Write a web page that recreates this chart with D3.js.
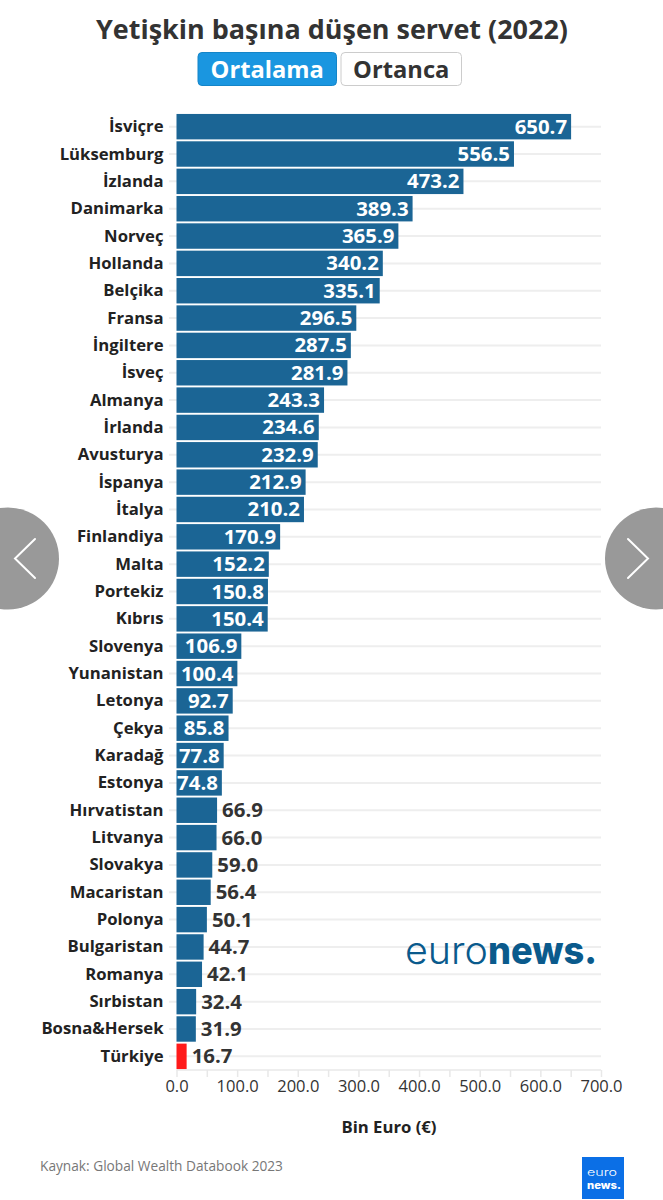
<!DOCTYPE html>
<html><head><meta charset="utf-8">
<script src="https://cdn.jsdelivr.net/npm/d3@7"></script>
<style>html,body{margin:0;padding:0;background:#fff}svg{display:block}text{font-family:"Open Sans",sans-serif}</style>
</head><body><div id="c"></div>
<script>
const countries=["İsviçre","Lüksemburg","İzlanda","Danimarka","Norveç","Hollanda","Belçika","Fransa","İngiltere","İsveç","Almanya","İrlanda","Avusturya","İspanya","İtalya","Finlandiya","Malta","Portekiz","Kıbrıs","Slovenya","Yunanistan","Letonya","Çekya","Karadağ","Estonya","Hırvatistan","Litvanya","Slovakya","Macaristan","Polonya","Bulgaristan","Romanya","Sırbistan","Bosna&Hersek","Türkiye"];
const values=[650.7,556.5,473.2,389.3,365.9,340.2,335.1,296.5,287.5,281.9,243.3,234.6,232.9,212.9,210.2,170.9,152.2,150.8,150.4,106.9,100.4,92.7,85.8,77.8,74.8,66.9,66.0,59.0,56.4,50.1,44.7,42.1,32.4,31.9,16.7];
const xTicks=[0,100,200,300,400,500,600,700];
const xMinorTicks=[0,50,100,150,200,250,300,350,400,450,500,550,600,650,700];
const title="Yetişkin başına düşen servet (2022)";
const buttons=["Ortalama","Ortanca"];
const axisTitle="Bin Euro (€)";
const source="Kaynak: Global Wealth Databook 2023";
const highlight="Türkiye";

const W=663,H=1200;
const svg=d3.select("#c").append("svg").attr("width",W).attr("height",H);
const x=d3.scaleLinear().domain([0,700]).range([176.5,601]);
const y=d3.scaleBand().domain(countries).range([113,1070]).paddingInner(0.07).paddingOuter(0.035);

svg.append("text").attr("x",332).attr("y",38.5).attr("text-anchor","middle")
  .attr("font-size",27.5).attr("font-weight",700).attr("fill","#333")
  .attr("textLength",472).attr("lengthAdjust","spacingAndGlyphs").text(title);

// buttons
const btn=[{x:198,w:138.5,fill:"#1a96e0",stroke:"#1485c8",col:"#fff"},{x:341,w:120.5,fill:"#fff",stroke:"#ccc",col:"#333"}];
btn.forEach((b,i)=>{
  svg.append("rect").attr("x",b.x).attr("y",52.5).attr("width",b.w).attr("height",33).attr("rx",4)
    .attr("fill",b.fill).attr("stroke",b.stroke).attr("stroke-width",1);
  svg.append("text").attr("x",b.x+b.w/2).attr("y",77.5).attr("text-anchor","middle")
    .attr("font-size",23.7).attr("font-weight",700).attr("fill",b.col).text(buttons[i]);
});

// gridlines
svg.append("g").selectAll("line").data(countries).join("line")
  .attr("x1",169).attr("x2",601)
  .attr("y1",d=>y(d)+y.bandwidth()/2).attr("y2",d=>y(d)+y.bandwidth()/2)
  .attr("stroke","#eeeeee").attr("stroke-width",2);

// axis
const axis=d3.axisBottom(x).tickValues(xMinorTicks).tickSize(7).tickFormat(d=>xTicks.includes(d)?d.toFixed(1):"");
const ga=svg.append("g").attr("transform","translate(0,1070)").call(axis);
ga.selectAll("path,line").attr("stroke","#e8e8e8").attr("stroke-width",1.5);
ga.select(".domain").attr("d","M176.5,0H601");
ga.selectAll("text").attr("font-size",16.5).attr("fill","#333").attr("y",10).style("font-family",'"Open Sans",sans-serif');

svg.append("text").attr("x",389).attr("y",1133).attr("text-anchor","middle")
  .attr("font-size",16.7).attr("font-weight",700).attr("fill","#222").text(axisTitle);

// bars
const rows=countries.map((c,i)=>({c,v:values[i]}));
svg.append("g").selectAll("rect").data(rows).join("rect")
  .attr("x",x(0)).attr("y",d=>y(d.c)).attr("height",y.bandwidth())
  .attr("width",d=>x(d.v)-x(0))
  .attr("fill",d=>d.c===highlight?"#ff1a1a":"#1b6595");

// category labels
svg.append("g").selectAll("text").data(rows).join("text")
  .attr("x",163.5).attr("y",d=>y(d.c)+y.bandwidth()/2+5.5).attr("text-anchor","end")
  .attr("font-size",16.7).attr("font-weight",700).attr("fill","#222").text(d=>d.c);

// value labels
svg.append("g").selectAll("text").data(rows).join("text")
  .attr("x",d=>d.v>70?x(d.v)-4:x(d.v)+5)
  .attr("y",d=>y(d.c)+y.bandwidth()/2+7)
  .attr("text-anchor",d=>d.v>70?"end":"start")
  .attr("font-size",20.4).attr("font-weight",700)
  .attr("fill",d=>d.v>70?"#fff":"#333").text(d=>d.v.toFixed(1));

// logo
const logo=svg.append("text").attr("x",405).attr("y",964).attr("font-size",38).attr("fill","#0a5a8c");
logo.append("tspan").style("font-family","Inter").attr("font-weight",300).attr("textLength",83).attr("lengthAdjust","spacingAndGlyphs").text("euro");
logo.append("tspan").style("font-family","Inter").attr("font-weight",800).attr("textLength",109).attr("lengthAdjust","spacingAndGlyphs").text("news.");

// source
svg.append("text").attr("x",40).attr("y",1171).attr("font-size",13.7).attr("fill","#777").text(source);

// small logo
svg.append("rect").attr("x",582).attr("y",1157).attr("width",42).attr("height",42).attr("fill","#0b6fe6");
svg.append("text").attr("x",587).attr("y",1175.5).attr("font-size",10.5).attr("fill","#fff").style("font-family","Inter")
  .attr("font-weight",300).attr("textLength",30).attr("lengthAdjust","spacingAndGlyphs").text("euro");
svg.append("text").attr("x",587).attr("y",1188.5).attr("font-size",10.5).attr("fill","#fff").style("font-family","Inter")
  .attr("font-weight",800).attr("textLength",34).attr("lengthAdjust","spacingAndGlyphs").text("news.");

// nav arrows
svg.append("circle").attr("cx",8).attr("cy",558.5).attr("r",51).attr("fill","#999");
svg.append("circle").attr("cx",656).attr("cy",558.5).attr("r",51).attr("fill","#999");
const line=d3.line();
svg.append("path").attr("d",line([[35,539],[15,558.5],[35,578]])).attr("fill","none").attr("stroke","#fff").attr("stroke-width",2).attr("stroke-linecap","round");
svg.append("path").attr("d",line([[628,539],[648,558.5],[628,578]])).attr("fill","none").attr("stroke","#fff").attr("stroke-width",2).attr("stroke-linecap","round");
</script></body></html>
